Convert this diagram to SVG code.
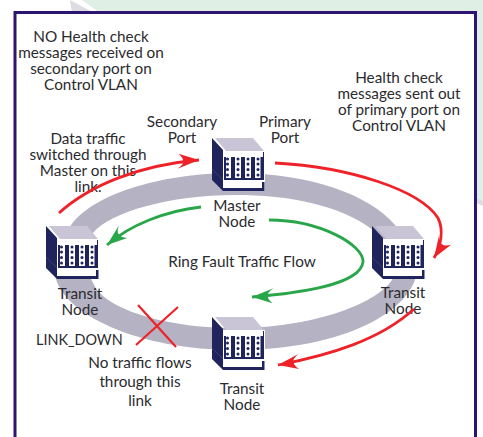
<svg xmlns="http://www.w3.org/2000/svg" xmlns:xlink="http://www.w3.org/1999/xlink" width="483" height="437" viewBox="0 0 483 437">
<style>
text{font-family:"Lato","Open Sans","Liberation Sans",sans-serif;font-size:15.3px;fill:#2b2b2f;text-anchor:middle}
.red{fill:none;stroke:#ee2229;stroke-width:2.800}
.green{fill:none;stroke:#2aa64a;stroke-width:2.800}
.dark{fill:#20245c}
.dots{fill:#20245c}
</style>
<defs>
<marker id="ah-red" markerUnits="userSpaceOnUse" markerWidth="26" markerHeight="18" refX="23" refY="8" orient="auto"><path d="M23,8 L3,0 Q8,5 7,8 Q8,11 1,15 Z" fill="#ee2229"/></marker>
<marker id="ah-green" markerUnits="userSpaceOnUse" markerWidth="26" markerHeight="18" refX="23" refY="8" orient="auto"><path d="M23,8 L3,0 Q8,5 7,8 Q8,11 1,15 Z" fill="#2aa64a"/></marker>
<g id="sw">
<path d="M3,0H41L52,13H14Z" fill="#c9c5d6"/>
<path d="M11,13H53V53H11Z" fill="#fff"/>
<path class="dark" d="M0,0L11,12V53L0,42Z"/>
<path class="dark" d="M12,19H14V40H52V14H51V19H50.500V42H12Z"/>
<path class="dark" d="M19,19H23V42H19ZM29,19H33V42H29ZM39,19H43V42H39ZM48.500,19H52V42H48.500Z"/>
<path class="dark" d="M11,50H50V44H52.500V53H11Z"/>
<path d="M0,31L11,42" stroke="#4a4d80" stroke-width=".6" fill="none"/>
<g class="dots"><circle cx="15.500" cy="21" r="1.500"/><circle cx="15.500" cy="26" r="1.500"/><circle cx="15.500" cy="31.500" r="1.500"/><circle cx="15.500" cy="37" r="1.500"/><circle cx="26" cy="21" r="1.500"/><circle cx="26" cy="26" r="1.500"/><circle cx="26" cy="31.500" r="1.500"/><circle cx="26" cy="37" r="1.500"/><circle cx="36" cy="21" r="1.500"/><circle cx="36" cy="26" r="1.500"/><circle cx="36" cy="31.500" r="1.500"/><circle cx="36" cy="37" r="1.500"/><circle cx="46" cy="21" r="1.500"/><circle cx="46" cy="26" r="1.500"/><circle cx="46" cy="31.500" r="1.500"/><circle cx="46" cy="37" r="1.500"/></g>
</g>
</defs>
<rect width="483" height="437" fill="#fff"/>
<path d="M70,0L100,16H483V206L470,200H100Z" fill="#dcdce2"/>
<path d="M82,0H483V201L470,196V13H100Z" fill="#dfefe6"/>
<rect x="15" y="12.500" width="460.500" height="440" fill="#fff" stroke="#2b1570" stroke-width="3"/>
<path id="ring" fill="#b5b2c3" fill-rule="evenodd" d="M235,173C310,173 370,195 395,225C410,243 420,258 417,270C414,310 345,350 235,350C140,350 62,315 55,275C52,255 60,240 70,227C90,195 160,173 235,173ZM235,195C290,195 340,205 373,230C395,247 400,262 392,280C375,305 310,328 235,328C170,328 115,312 97,290C85,270 80,250 93,233C110,212 170,195 235,195Z"/>
<g id="node-master"><use xlink:href="#sw" href="#sw" x="212" y="138"/><text y="211"><tspan x="237">Master</tspan><tspan x="237" dy="16">Node</tspan></text></g>
<g id="node-left"><use xlink:href="#sw" href="#sw" x="46" y="226"/><text y="299"><tspan x="80">Transit</tspan><tspan x="80" dy="16">Node</tspan></text></g>
<g id="node-right"><use xlink:href="#sw" href="#sw" x="372" y="226"/><text y="298"><tspan x="403">Transit</tspan><tspan x="403" dy="16">Node</tspan></text></g>
<g id="node-bottom"><use xlink:href="#sw" href="#sw" x="212" y="317"/><text y="394"><tspan x="242">Transit</tspan><tspan x="242" dy="16">Node</tspan></text></g>
<g id="labels">
<text y="42"><tspan x="91">NO Health check</tspan><tspan x="91" dy="16">messages received on</tspan><tspan x="91" dy="16">secondary port on</tspan><tspan x="91" dy="16">Control VLAN</tspan></text>
<text y="83"><tspan x="399">Health check</tspan><tspan x="399" dy="16">messages sent out</tspan><tspan x="399" dy="16">of primary port on</tspan><tspan x="399" dy="16">Control VLAN</tspan></text>
<text y="127"><tspan x="182">Secondary</tspan><tspan x="182" dy="16">Port</tspan></text>
<text y="127"><tspan x="285">Primary</tspan><tspan x="285" dy="16">Port</tspan></text>
<text y="144"><tspan x="88">Data traffic</tspan><tspan x="88" dy="16">switched through</tspan><tspan x="88" dy="16">Master on this</tspan><tspan x="88" dy="16">link.</tspan></text>
<text x="242" y="267">Ring Fault Traffic Flow</text>
<text x="36" y="345" style="text-anchor:start;font-size:14.4px">LINK_DOWN</text>
<text y="368"><tspan x="140">No traffic flows</tspan><tspan x="140" dy="19">through this</tspan><tspan x="140" dy="19">link</tspan></text>
</g>
<g id="connectors">
<path class="red" marker-end="url(#ah-red)" d="M59,213C90,185 140,165 199,160"/>
<path class="red" marker-end="url(#ah-red)" d="M275,163C350,167 420,190 438,218C444,230 441,246 434,258"/>
<path class="red" marker-end="url(#ah-red)" d="M414,309C380,340 330,355 278,365"/>
<path class="green" marker-end="url(#ah-green)" d="M201,207C165,211 130,225 107,245"/>
<path class="green" marker-end="url(#ah-green)" d="M269,220C320,220 364,245 363,262C360,285 300,293 252,297"/>
<path d="M138,305L176,347M178,307L136,345" fill="none" stroke="#ee2229" stroke-width="2.200"/>
</g>
</svg>
